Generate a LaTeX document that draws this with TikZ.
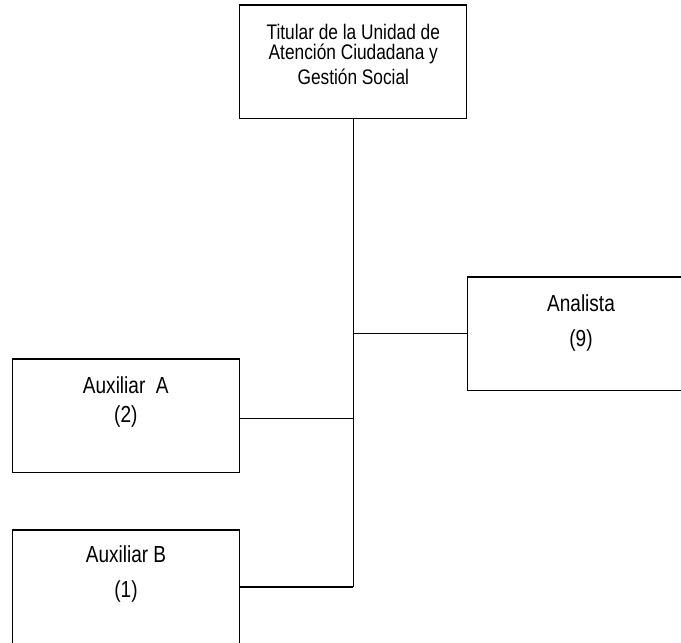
\documentclass[tikz,border=0pt]{standalone}
\usepackage{fontspec}
\setmainfont{Liberation Sans}
\newfontfamily\orgfont[FakeStretch=0.82]{Liberation Sans}
\usetikzlibrary{positioning, calc}
\newcommand{\padbelow}[1]{\rule[-#1]{0pt}{#1}}
\tikzset{
  orgbox/.style={rectangle, draw=black, line width=0.9pt, fill=white,
    minimum width=5.675cm, minimum height=2.84cm, align=center, inner sep=0pt,
    font=\orgfont\fontsize{16.5}{20}\selectfont},
  headbox/.style={orgbox, font=\orgfont\fontsize{15}{14.2}\selectfont},
  link/.style={draw=black, line width=0.9pt},
}

\begin{document}
\begin{tikzpicture}[x=0.025cm, y=-0.025cm]
\useasboundingbox (0,0) rectangle (681,642);
\clip (0,0) rectangle (681,642);

%% BOXES
\node[headbox] (titular) at (353.3, 61.7)
  {Titular de la Unidad de\\
   Atención Ciudadana y\\[3.5pt]
   Gestión Social\padbelow{10.8pt}};

\node[orgbox] (analista) at (581.0, 333.8)
  {Analista\\[4.3pt]
   (9)\padbelow{18.8pt}};

\node[orgbox] (auxA) at (125.8, 415.9)
  {Auxiliar\ \ A\\[0.3pt]
   (2)\padbelow{23.5pt}};

\node[orgbox] (auxB) at (126.0, 586.9)
  {Auxiliar B\\[5.1pt]
   (1)\padbelow{21.5pt}};

%% CONNECTORS
\coordinate (trunkend) at (titular.south |- auxB.east);
\draw[link] (titular.south) -- (trunkend);
\draw[link] (analista.west) -- (analista.west -| trunkend);
\draw[link] ($(auxA.east)+(0,2.6)$) -- ($(auxA.east -| trunkend)+(0,2.6)$);
\draw[link] (auxB.east) -- (trunkend);

\end{tikzpicture}
\end{document}
